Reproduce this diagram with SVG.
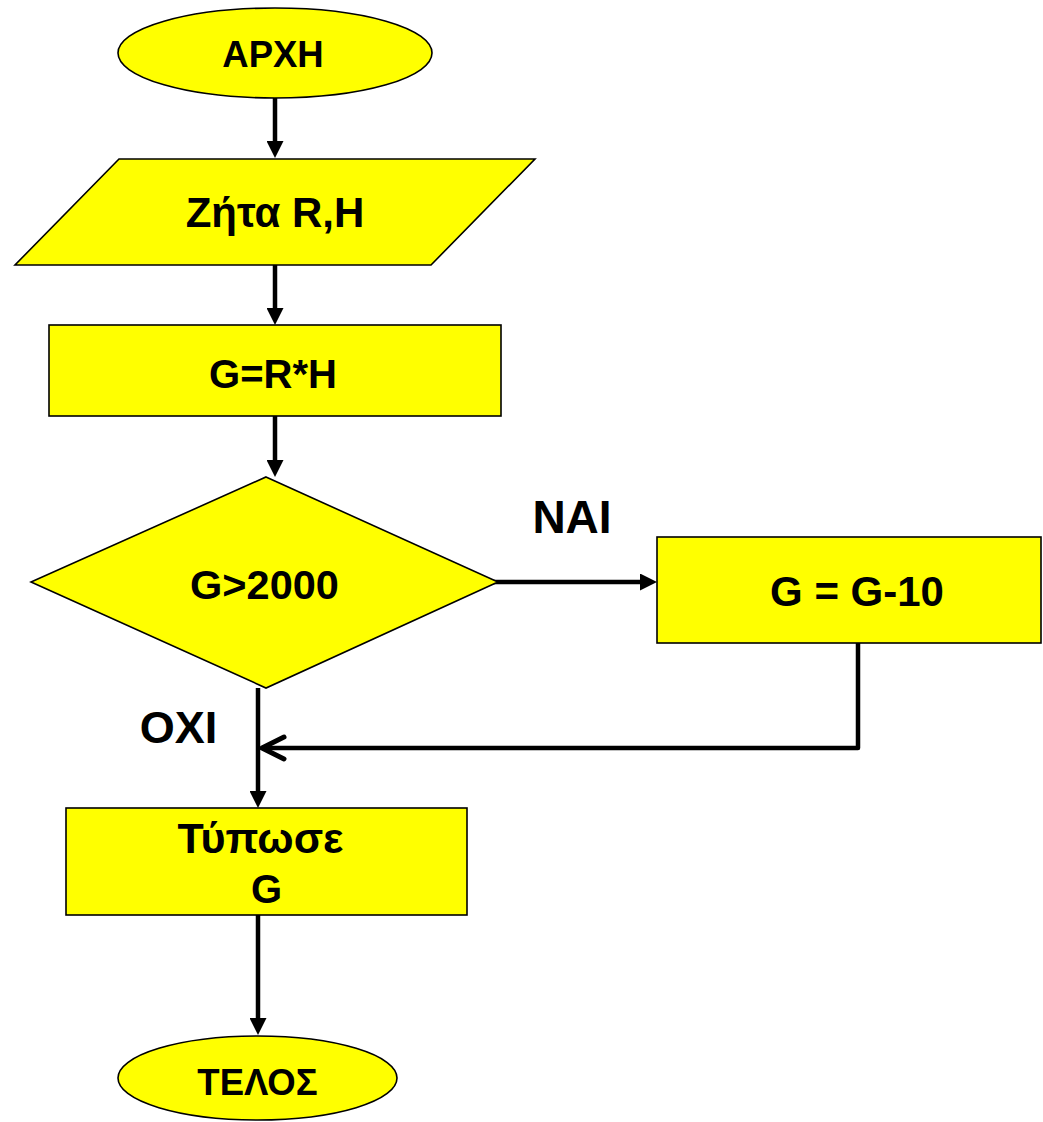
<svg xmlns="http://www.w3.org/2000/svg" width="1043" height="1122" viewBox="0 0 1043 1122">
<style>
.shape{fill:#FFFF00;stroke:#000;stroke-width:1.6}
.lbl{font-family:"Liberation Sans",Arial,sans-serif;font-weight:bold;fill:#000;text-anchor:middle}
.conn{fill:none;stroke:#000;stroke-width:4.5;stroke-linejoin:round}
</style>
<defs>
<marker id="arr" viewBox="0 0 17 17" markerWidth="17" markerHeight="17" refX="1" refY="8.5" orient="auto" markerUnits="userSpaceOnUse">
<path d="M0,0 L17,8.5 L0,17 z" fill="#000"/>
</marker>
<marker id="open" viewBox="-4 -4 30 30" markerWidth="30" markerHeight="30" refX="22" refY="11" orient="auto" markerUnits="userSpaceOnUse">
<path d="M0,0 L22,11 L0,22" fill="none" stroke="#000" stroke-width="5" stroke-linecap="round" stroke-linejoin="round"/>
</marker>
</defs>
<rect width="1043" height="1122" fill="#fff"/>
<g id="connectors">
<path class="conn" d="M275,98 V142" marker-end="url(#arr)"/>
<path class="conn" d="M275,265 V309" marker-end="url(#arr)"/>
<path class="conn" d="M275,416 V461" marker-end="url(#arr)"/>
<path class="conn" d="M485,582 H641" marker-end="url(#arr)"/>
<path class="conn" d="M858,643 V748 H262" marker-end="url(#open)"/>
<path class="conn" d="M258,688 V792" marker-end="url(#arr)"/>
<path class="conn" d="M258,915 V1019" marker-end="url(#arr)"/>
</g>
<g id="start">
<ellipse class="shape" cx="275" cy="53" rx="157" ry="45"/>
<text class="lbl" x="273" y="66.5" font-size="36.5">ΑΡΧΗ</text>
</g>
<g id="input">
<polygon class="shape" points="119,159 535,159 431,265 15,265"/>
<text class="lbl" x="275" y="227" font-size="42">Ζήτα R,H</text>
</g>
<g id="calc">
<rect class="shape" x="49" y="325" width="452" height="91"/>
<text class="lbl" x="273" y="387.5" font-size="40">G=R*H</text>
</g>
<g id="decision">
<polygon class="shape" points="266,477 498,582 266,688 31,582"/>
<text class="lbl" x="264.5" y="599" font-size="41.5">G&gt;2000</text>
</g>
<g id="label-yes">
<text class="lbl" x="572" y="533" font-size="46">ΝΑΙ</text>
</g>
<g id="label-no">
<text class="lbl" x="178.5" y="743" font-size="45">ΟΧΙ</text>
</g>
<g id="decrement">
<rect class="shape" x="657" y="537" width="384" height="106"/>
<text class="lbl" x="857" y="606" font-size="42">G = G-10</text>
</g>
<g id="print">
<rect class="shape" x="66" y="808" width="401" height="107"/>
<text class="lbl" x="260.5" y="852.5" font-size="43">Τύπωσε</text>
<text class="lbl" x="266.5" y="903" font-size="40">G</text>
</g>
<g id="end">
<ellipse class="shape" cx="257.5" cy="1078" rx="139.5" ry="42"/>
<text class="lbl" x="257.5" y="1095" font-size="36.5">ΤΕΛΟΣ</text>
</g>
</svg>
